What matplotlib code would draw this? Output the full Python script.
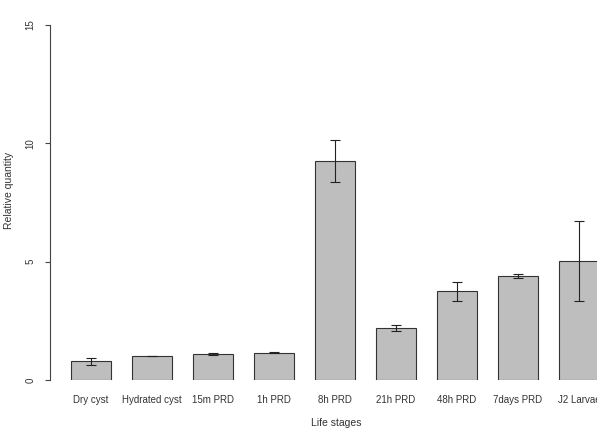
import matplotlib
matplotlib.use("Agg")
import matplotlib.pyplot as plt
import numpy as np

categories = ["Dry cyst", "Hydrated cyst", "15m PRD", "1h PRD", "8h PRD",
              "21h PRD", "48h PRD", "7days PRD", "J2 Larvae"]
values = [0.80, 1.00, 1.10, 1.15, 9.25, 2.20, 3.75, 4.38, 5.03]
errors = [0.15, 0.0, 0.04, 0.02, 0.88, 0.13, 0.40, 0.09, 1.69]
yticks = [0, 5, 10, 15]

W, H = 597, 438
fig = plt.figure(figsize=(W / 100, H / 100), dpi=100)
plt.rcParams['font.family'] = ['Liberation Sans', 'DejaVu Sans']

# axes: left edge at px 50, right edge at px 597; y 0 at px 380, 15 at px 25
ax = fig.add_axes([50 / W, (H - 380) / H, 547 / W, 355 / H])
x = np.arange(len(categories))
ax.bar(x, values, width=0.67, color="#bebebe", edgecolor="#333333", linewidth=0.8, zorder=2)
ax.errorbar(x, values, yerr=errors, fmt="none", ecolor="#222222", elinewidth=0.8,
            capsize=3.5, capthick=0.8, zorder=3)

ax.set_xlim(-0.672, 8.295)
ax.set_ylim(0, 15)
for s in ["top", "right", "bottom"]:
    ax.spines[s].set_visible(False)
ax.spines["left"].set_color("#444444")
ax.spines["left"].set_linewidth(0.8)
ax.spines["left"].set_bounds(0, 15)

ax.set_yticks(yticks)
ax.set_yticklabels([str(t) for t in yticks], rotation=90, va="center", fontsize=7, color="#333333")
ax.tick_params(axis="y", length=3.8, width=0.8, color="#444444", pad=6.5)

ax.set_xticks(x)
ax.set_xticklabels(categories, fontsize=7, color="#333333")
ax.tick_params(axis="x", length=0, pad=11)

fig.text(336 / W, 1 - 423 / H, "Life stages", ha="center", va="center", fontsize=7.5, color="#333333")
fig.text(9 / W, 1 - 190 / H, "Relative quantity", ha="center", va="center", rotation=90,
         fontsize=7.5, color="#333333")

fig.savefig("out.png", dpi=100)
